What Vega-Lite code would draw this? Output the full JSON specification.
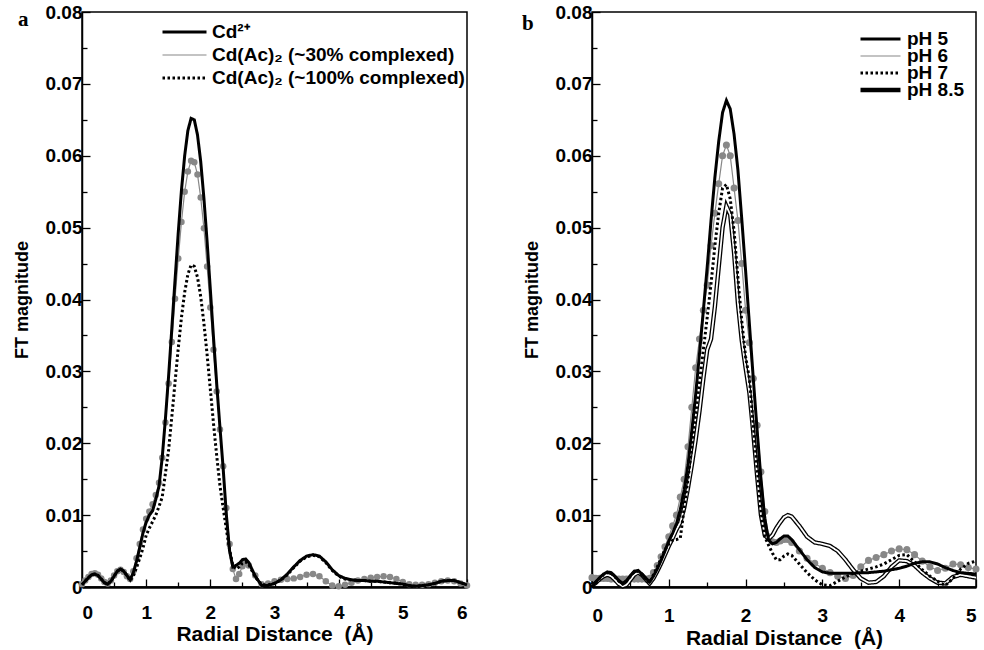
{
  "$schema": "https://vega.github.io/schema/vega-lite/v6.json",
  "padding": {"left": 12, "top": 2, "right": 0, "bottom": 0},
  "background": "white",
  "spacing": 125,
  "bounds": "flush",
  "resolve": {
    "scale": {"color": "independent", "strokeDash": "independent", "strokeWidth": "independent", "x": "independent", "y": "independent"},
    "legend": {"color": "independent", "strokeDash": "independent", "strokeWidth": "independent"}
  },
  "config": {
    "view": {"stroke": "black", "strokeWidth": 1.5},
    "axis": {
      "labelFont": "Liberation Sans", "labelFontWeight": "bold", "labelFontSize": 19, "labelColor": "black",
      "titleFont": "Liberation Sans", "titleFontWeight": "bold", "titleFontSize": 21, "titleColor": "black",
      "domainColor": "black", "tickColor": "black", "tickWidth": 1.3, "grid": false
    },
    "axisX": {"domainWidth": 2.5, "titlePadding": 1, "labelPadding": 24},
    "axisY": {"domainWidth": 1.5, "titlePadding": 14, "labelPadding": 8, "titleFontSize": 18},
    "legend": {
      "labelFont": "Liberation Sans", "labelFontWeight": "bold", "labelFontSize": 19, "labelColor": "black",
      "symbolType": "stroke", "padding": 0, "labelOffset": 4, "labelLimit": 400, "rowPadding": 0
    },
    "title": {"font": "Liberation Serif", "fontWeight": "bold", "fontSize": 21, "color": "black"}
  },
  "hconcat": [
    {
      "width": 385,
      "height": 575,
      "title": {"text": "a", "anchor": "start", "frame": "group", "orient": "top", "offset": -38, "baseline": "middle", "dx": -64},
      "data": {"values": [
        {"x":0.00,"c":0.0003,"g":0.0004,"d":0.0003},
        {"x":0.05,"c":0.0008,"g":0.0009,"d":0.0008},
        {"x":0.10,"c":0.0013,"g":0.0014,"d":0.0013},
        {"x":0.15,"c":0.0017,"g":0.0018,"d":0.0017},
        {"x":0.20,"c":0.0018,"g":0.0019,"d":0.0018},
        {"x":0.25,"c":0.0016,"g":0.0017,"d":0.0016},
        {"x":0.30,"c":0.0011,"g":0.0012,"d":0.0011},
        {"x":0.35,"c":0.0006,"g":0.0007,"d":0.0006},
        {"x":0.40,"c":0.0004,"g":0.0005,"d":0.0004},
        {"x":0.45,"c":0.0008,"g":0.0009,"d":0.0008},
        {"x":0.50,"c":0.0015,"g":0.0016,"d":0.0015},
        {"x":0.55,"c":0.0022,"g":0.0022,"d":0.0022},
        {"x":0.60,"c":0.0025,"g":0.0024,"d":0.0025},
        {"x":0.65,"c":0.0022,"g":0.0021,"d":0.0022},
        {"x":0.70,"c":0.0016,"g":0.0015,"d":0.0016},
        {"x":0.75,"c":0.0010,"g":0.0011,"d":0.0009},
        {"x":0.80,"c":0.0020,"g":0.0022,"d":0.0015},
        {"x":0.85,"c":0.0036,"g":0.0040,"d":0.0027},
        {"x":0.90,"c":0.0055,"g":0.0060,"d":0.0040},
        {"x":0.95,"c":0.0075,"g":0.0080,"d":0.0054},
        {"x":1.00,"c":0.0090,"g":0.0095,"d":0.0072},
        {"x":1.05,"c":0.0100,"g":0.0105,"d":0.0082},
        {"x":1.10,"c":0.0106,"g":0.0115,"d":0.0091},
        {"x":1.15,"c":0.0122,"g":0.0128,"d":0.0100},
        {"x":1.20,"c":0.0140,"g":0.0145,"d":0.0112},
        {"x":1.25,"c":0.0180,"g":0.0180,"d":0.0125},
        {"x":1.30,"c":0.0234,"g":0.0229,"d":0.0158},
        {"x":1.35,"c":0.0294,"g":0.0283,"d":0.0191},
        {"x":1.40,"c":0.0360,"g":0.0341,"d":0.0237},
        {"x":1.45,"c":0.0427,"g":0.0401,"d":0.0285},
        {"x":1.50,"c":0.0493,"g":0.0457,"d":0.0332},
        {"x":1.55,"c":0.0552,"g":0.0508,"d":0.0375},
        {"x":1.60,"c":0.0600,"g":0.0550,"d":0.0410},
        {"x":1.65,"c":0.0635,"g":0.0578,"d":0.0435},
        {"x":1.70,"c":0.0652,"g":0.0593,"d":0.0448},
        {"x":1.75,"c":0.0650,"g":0.0591,"d":0.0446},
        {"x":1.80,"c":0.0629,"g":0.0574,"d":0.0431},
        {"x":1.85,"c":0.0592,"g":0.0542,"d":0.0404},
        {"x":1.90,"c":0.0541,"g":0.0499,"d":0.0367},
        {"x":1.95,"c":0.0480,"g":0.0446,"d":0.0323},
        {"x":2.00,"c":0.0414,"g":0.0389,"d":0.0275},
        {"x":2.05,"c":0.0346,"g":0.0330,"d":0.0227},
        {"x":2.10,"c":0.0282,"g":0.0272,"d":0.0182},
        {"x":2.15,"c":0.0222,"g":0.0219,"d":0.0141},
        {"x":2.20,"c":0.0165,"g":0.0168,"d":0.0110},
        {"x":2.25,"c":0.0100,"g":0.0110,"d":0.0080},
        {"x":2.30,"c":0.0050,"g":0.0060,"d":0.0052},
        {"x":2.35,"c":0.0028,"g":0.0025,"d":0.0030},
        {"x":2.40,"c":0.0030,"g":0.0011,"d":0.0025},
        {"x":2.45,"c":0.0033,"g":0.0018,"d":0.0028},
        {"x":2.50,"c":0.0038,"g":0.0029,"d":0.0033},
        {"x":2.55,"c":0.0039,"g":0.0033,"d":0.0035},
        {"x":2.60,"c":0.0034,"g":0.0030,"d":0.0031},
        {"x":2.70,"c":0.0015,"g":0.0016,"d":0.0014},
        {"x":2.80,"c":0.0002,"g":0.0004,"d":0.0003},
        {"x":2.90,"c":0.0002,"g":0.0005,"d":0.0003},
        {"x":3.00,"c":0.0005,"g":0.0008,"d":0.0005},
        {"x":3.10,"c":0.0010,"g":0.0010,"d":0.0010},
        {"x":3.20,"c":0.0018,"g":0.0011,"d":0.0017},
        {"x":3.30,"c":0.0028,"g":0.0012,"d":0.0027},
        {"x":3.40,"c":0.0037,"g":0.0014,"d":0.0036},
        {"x":3.50,"c":0.0043,"g":0.0017,"d":0.0042},
        {"x":3.60,"c":0.0045,"g":0.0018,"d":0.0044},
        {"x":3.70,"c":0.0043,"g":0.0015,"d":0.0042},
        {"x":3.80,"c":0.0035,"g":0.0008,"d":0.0034},
        {"x":3.90,"c":0.0024,"g":0.0002,"d":0.0023},
        {"x":4.00,"c":0.0016,"g":0.0001,"d":0.0015},
        {"x":4.10,"c":0.0012,"g":0.0003,"d":0.0011},
        {"x":4.20,"c":0.0010,"g":0.0006,"d":0.0010},
        {"x":4.30,"c":0.0009,"g":0.0009,"d":0.0009},
        {"x":4.40,"c":0.0009,"g":0.0011,"d":0.0009},
        {"x":4.50,"c":0.0008,"g":0.0013,"d":0.0008},
        {"x":4.60,"c":0.0008,"g":0.0014,"d":0.0008},
        {"x":4.70,"c":0.0007,"g":0.0015,"d":0.0007},
        {"x":4.80,"c":0.0006,"g":0.0014,"d":0.0006},
        {"x":4.90,"c":0.0005,"g":0.0011,"d":0.0005},
        {"x":5.00,"c":0.0004,"g":0.0007,"d":0.0004},
        {"x":5.10,"c":0.0002,"g":0.0004,"d":0.0002},
        {"x":5.20,"c":0.0001,"g":0.0003,"d":0.0001},
        {"x":5.30,"c":0.0002,"g":0.0003,"d":0.0002},
        {"x":5.40,"c":0.0003,"g":0.0004,"d":0.0003},
        {"x":5.50,"c":0.0005,"g":0.0006,"d":0.0005},
        {"x":5.60,"c":0.0008,"g":0.0008,"d":0.0008},
        {"x":5.70,"c":0.0009,"g":0.0009,"d":0.0009},
        {"x":5.80,"c":0.0009,"g":0.0008,"d":0.0009},
        {"x":5.90,"c":0.0006,"g":0.0005,"d":0.0006},
        {"x":6.00,"c":0.0003,"g":0.0002,"d":0.0003}
      ]},
      "transform": [{"fold": ["c", "g", "d"], "as": ["series", "v"]}],
      "encoding": {
        "x": {"field": "x", "type": "quantitative", "scale": {"domain": [0, 6], "nice": false},
          "axis": {"title": "Radial Distance\u00a0 (Å)",
            "values": [0,0.5,1,1.5,2,2.5,3,3.5,4,4.5,5,5.5,6],
            "labelExpr": "datum.value % 1 === 0 ? format(datum.value, 'd') : ''",
            "tickSize": {"condition": {"test": "datum.value % 1 === 0", "value": -8}, "value": -5}}},
        "y": {"field": "v", "type": "quantitative", "scale": {"domain": [0, 0.08], "nice": false},
          "axis": {"title": "FT magnitude",
            "values": [0,0.005,0.01,0.015,0.02,0.025,0.03,0.035,0.04,0.045,0.05,0.055,0.06,0.065,0.07,0.075,0.08],
            "labelExpr": "round(datum.value*1000) % 10 === 0 ? format(datum.value, '.2~f') : ''",
            "tickSize": {"condition": {"test": "round(datum.value*1000) % 10 === 0", "value": -8}, "value": -5}}},
        "color": {"field": "series", "type": "nominal",
          "scale": {"domain": ["c", "g", "d"], "range": ["#000000", "#888888", "#000000"]},
          "legend": {"title": null, "orient": "none", "legendX": 79, "legendY": 9, "symbolSize": 1936, "clipHeight": 22, "rowPadding": 1,
            "labelExpr": "{'c': 'Cd²⁺', 'g': 'Cd(Ac)₂ (~30% complexed)', 'd': 'Cd(Ac)₂ (~100% complexed)'}[datum.label]"}},
        "strokeDash": {"field": "series", "type": "nominal",
          "scale": {"domain": ["c", "g", "d"], "range": [[1, 0], [1, 0], [2.5, 2.5]]},
          "legend": {"title": null, "orient": "none", "legendX": 79, "legendY": 9, "symbolSize": 1936, "clipHeight": 22, "rowPadding": 1,
            "labelExpr": "{'c': 'Cd²⁺', 'g': 'Cd(Ac)₂ (~30% complexed)', 'd': 'Cd(Ac)₂ (~100% complexed)'}[datum.label]"}},
        "strokeWidth": {"field": "series", "type": "nominal",
          "scale": {"type": "ordinal", "domain": ["c", "g", "d"], "range": [3, 1.2, 3]},
          "legend": {"title": null, "orient": "none", "legendX": 79, "legendY": 9, "symbolSize": 1936, "clipHeight": 22, "rowPadding": 1,
            "labelExpr": "{'c': 'Cd²⁺', 'g': 'Cd(Ac)₂ (~30% complexed)', 'd': 'Cd(Ac)₂ (~100% complexed)'}[datum.label]"}}
      },
      "layer": [
        {"transform": [{"filter": "datum.series === 'g'"}], "mark": {"type": "line"}},
        {"transform": [{"filter": "datum.series === 'g'"}],
          "mark": {"type": "point", "filled": true, "size": 42, "opacity": 1},
          "encoding": {"color": {"value": "#888888"}, "strokeDash": {"value": [1, 0]}, "strokeWidth": {"value": 0}}},
        {"transform": [{"filter": "datum.series === 'c'"}], "mark": {"type": "line"}},
        {"transform": [{"filter": "datum.series === 'd'"}], "mark": {"type": "line"}}
      ]
    },
    {
      "width": 384,
      "height": 575,
      "title": {"text": "b", "anchor": "start", "frame": "group", "orient": "top", "offset": -42, "baseline": "middle", "dx": -70},
      "data": {"values": [
        {"x":0.00,"p5":0.0000,"p6":0.0013,"p7":0.0000,"p85":0.0002},
        {"x":0.05,"p5":0.0007,"p6":0.0012,"p7":0.0006,"p85":0.0006},
        {"x":0.10,"p5":0.0013,"p6":0.0012,"p7":0.0012,"p85":0.0011},
        {"x":0.15,"p5":0.0018,"p6":0.0012,"p7":0.0017,"p85":0.0015},
        {"x":0.20,"p5":0.0021,"p6":0.0012,"p7":0.0020,"p85":0.0017},
        {"x":0.25,"p5":0.0020,"p6":0.0011,"p7":0.0019,"p85":0.0015},
        {"x":0.30,"p5":0.0015,"p6":0.0011,"p7":0.0014,"p85":0.0010},
        {"x":0.35,"p5":0.0009,"p6":0.0011,"p7":0.0008,"p85":0.0004},
        {"x":0.40,"p5":0.0005,"p6":0.0011,"p7":0.0004,"p85":0.0001},
        {"x":0.45,"p5":0.0009,"p6":0.0011,"p7":0.0008,"p85":0.0003},
        {"x":0.50,"p5":0.0016,"p6":0.0011,"p7":0.0015,"p85":0.0010},
        {"x":0.55,"p5":0.0022,"p6":0.0011,"p7":0.0021,"p85":0.0017},
        {"x":0.60,"p5":0.0023,"p6":0.0011,"p7":0.0022,"p85":0.0020},
        {"x":0.65,"p5":0.0018,"p6":0.0011,"p7":0.0017,"p85":0.0017},
        {"x":0.70,"p5":0.0012,"p6":0.0011,"p7":0.0011,"p85":0.0011},
        {"x":0.75,"p5":0.0007,"p6":0.0012,"p7":0.0006,"p85":0.0005},
        {"x":0.80,"p5":0.0015,"p6":0.0020,"p7":0.0017,"p85":0.0012},
        {"x":0.85,"p5":0.0025,"p6":0.0030,"p7":0.0028,"p85":0.0022},
        {"x":0.90,"p5":0.0037,"p6":0.0042,"p7":0.0040,"p85":0.0033},
        {"x":0.95,"p5":0.0050,"p6":0.0056,"p7":0.0052,"p85":0.0045},
        {"x":1.00,"p5":0.0064,"p6":0.0070,"p7":0.0060,"p85":0.0057},
        {"x":1.05,"p5":0.0075,"p6":0.0085,"p7":0.0065,"p85":0.0068},
        {"x":1.10,"p5":0.0088,"p6":0.0100,"p7":0.0066,"p85":0.0080},
        {"x":1.15,"p5":0.0108,"p6":0.0125,"p7":0.0068,"p85":0.0090},
        {"x":1.20,"p5":0.0135,"p6":0.0150,"p7":0.0110,"p85":0.0110},
        {"x":1.25,"p5":0.0170,"p6":0.0195,"p7":0.0150,"p85":0.0138},
        {"x":1.30,"p5":0.0218,"p6":0.0250,"p7":0.0195,"p85":0.0170},
        {"x":1.35,"p5":0.0268,"p6":0.0305,"p7":0.0240,"p85":0.0205},
        {"x":1.40,"p5":0.0325,"p6":0.0345,"p7":0.0285,"p85":0.0245},
        {"x":1.45,"p5":0.0385,"p6":0.0385,"p7":0.0330,"p85":0.0290},
        {"x":1.50,"p5":0.0445,"p6":0.0420,"p7":0.0375,"p85":0.0330},
        {"x":1.55,"p5":0.0510,"p6":0.0475,"p7":0.0422,"p85":0.0345},
        {"x":1.60,"p5":0.0570,"p6":0.0520,"p7":0.0475,"p85":0.0390},
        {"x":1.65,"p5":0.0620,"p6":0.0561,"p7":0.0520,"p85":0.0445},
        {"x":1.70,"p5":0.0660,"p6":0.0600,"p7":0.0555,"p85":0.0500},
        {"x":1.75,"p5":0.0677,"p6":0.0615,"p7":0.0560,"p85":0.0530},
        {"x":1.80,"p5":0.0665,"p6":0.0600,"p7":0.0540,"p85":0.0518},
        {"x":1.85,"p5":0.0630,"p6":0.0555,"p7":0.0495,"p85":0.0465},
        {"x":1.90,"p5":0.0580,"p6":0.0510,"p7":0.0430,"p85":0.0395},
        {"x":1.95,"p5":0.0512,"p6":0.0450,"p7":0.0370,"p85":0.0343},
        {"x":2.00,"p5":0.0440,"p6":0.0385,"p7":0.0320,"p85":0.0305},
        {"x":2.05,"p5":0.0365,"p6":0.0340,"p7":0.0290,"p85":0.0270},
        {"x":2.10,"p5":0.0290,"p6":0.0290,"p7":0.0225,"p85":0.0215},
        {"x":2.15,"p5":0.0218,"p6":0.0225,"p7":0.0165,"p85":0.0155},
        {"x":2.20,"p5":0.0150,"p6":0.0160,"p7":0.0105,"p85":0.0100},
        {"x":2.25,"p5":0.0095,"p6":0.0105,"p7":0.0070,"p85":0.0072},
        {"x":2.30,"p5":0.0065,"p6":0.0070,"p7":0.0058,"p85":0.0067},
        {"x":2.35,"p5":0.0060,"p6":0.0063,"p7":0.0047,"p85":0.0072},
        {"x":2.40,"p5":0.0062,"p6":0.0062,"p7":0.0038,"p85":0.0082},
        {"x":2.45,"p5":0.0067,"p6":0.0064,"p7":0.0038,"p85":0.0090},
        {"x":2.50,"p5":0.0071,"p6":0.0066,"p7":0.0043,"p85":0.0097},
        {"x":2.55,"p5":0.0071,"p6":0.0066,"p7":0.0046,"p85":0.0100},
        {"x":2.60,"p5":0.0066,"p6":0.0062,"p7":0.0044,"p85":0.0098},
        {"x":2.70,"p5":0.0052,"p6":0.0050,"p7":0.0032,"p85":0.0085},
        {"x":2.80,"p5":0.0038,"p6":0.0040,"p7":0.0020,"p85":0.0070},
        {"x":2.90,"p5":0.0027,"p6":0.0033,"p7":0.0010,"p85":0.0062},
        {"x":3.00,"p5":0.0021,"p6":0.0026,"p7":0.0003,"p85":0.0060},
        {"x":3.10,"p5":0.0019,"p6":0.0020,"p7":0.0002,"p85":0.0057},
        {"x":3.20,"p5":0.0019,"p6":0.0015,"p7":0.0008,"p85":0.0050},
        {"x":3.30,"p5":0.0019,"p6":0.0012,"p7":0.0014,"p85":0.0038},
        {"x":3.40,"p5":0.0019,"p6":0.0016,"p7":0.0019,"p85":0.0024},
        {"x":3.50,"p5":0.0020,"p6":0.0028,"p7":0.0022,"p85":0.0012},
        {"x":3.60,"p5":0.0020,"p6":0.0037,"p7":0.0025,"p85":0.0006},
        {"x":3.70,"p5":0.0021,"p6":0.0041,"p7":0.0028,"p85":0.0007},
        {"x":3.80,"p5":0.0022,"p6":0.0045,"p7":0.0032,"p85":0.0015},
        {"x":3.90,"p5":0.0024,"p6":0.0050,"p7":0.0038,"p85":0.0028},
        {"x":4.00,"p5":0.0026,"p6":0.0053,"p7":0.0044,"p85":0.0037},
        {"x":4.10,"p5":0.0029,"p6":0.0052,"p7":0.0045,"p85":0.0036},
        {"x":4.20,"p5":0.0033,"p6":0.0045,"p7":0.0035,"p85":0.0030},
        {"x":4.30,"p5":0.0035,"p6":0.0036,"p7":0.0024,"p85":0.0020},
        {"x":4.40,"p5":0.0035,"p6":0.0028,"p7":0.0015,"p85":0.0012},
        {"x":4.50,"p5":0.0032,"p6":0.0023,"p7":0.0008,"p85":0.0006},
        {"x":4.60,"p5":0.0027,"p6":0.0026,"p7":0.0002,"p85":0.0005},
        {"x":4.70,"p5":0.0023,"p6":0.0032,"p7":0.0012,"p85":0.0014},
        {"x":4.80,"p5":0.0020,"p6":0.0031,"p7":0.0025,"p85":0.0017},
        {"x":4.90,"p5":0.0019,"p6":0.0027,"p7":0.0033,"p85":0.0015},
        {"x":5.00,"p5":0.0018,"p6":0.0025,"p7":0.0036,"p85":0.0013}
      ]},
      "transform": [{"fold": ["p5", "p6", "p7", "p85"], "as": ["series", "v"]}],
      "encoding": {
        "x": {"field": "x", "type": "quantitative", "scale": {"domain": [0, 5], "nice": false},
          "axis": {"title": "Radial Distance\u00a0 (Å)", "labelPadding": 27, "titlePadding": 2,
            "values": [0,0.5,1,1.5,2,2.5,3,3.5,4,4.5,5],
            "labelExpr": "datum.value % 1 === 0 ? format(datum.value, 'd') : ''",
            "tickSize": {"condition": {"test": "datum.value % 1 === 0", "value": -8}, "value": -5}}},
        "y": {"field": "v", "type": "quantitative", "scale": {"domain": [0, 0.08], "nice": false},
          "axis": {"title": "FT magnitude",
            "values": [0,0.005,0.01,0.015,0.02,0.025,0.03,0.035,0.04,0.045,0.05,0.055,0.06,0.065,0.07,0.075,0.08],
            "labelExpr": "round(datum.value*1000) % 10 === 0 ? format(datum.value, '.2~f') : ''",
            "tickSize": {"condition": {"test": "round(datum.value*1000) % 10 === 0", "value": -8}, "value": -5}}},
        "color": {"field": "series", "type": "nominal",
          "scale": {"domain": ["p5", "p6", "p7", "p85"], "range": ["#000000", "#888888", "#000000", "#000000"]},
          "legend": {"title": null, "orient": "none", "legendX": 266, "legendY": 20, "symbolSize": 1600, "clipHeight": 14, "rowPadding": -4, "labelFontSize": 19,
            "labelExpr": "{'p5': 'pH 5', 'p6': 'pH 6', 'p7': 'pH 7', 'p85': 'pH 8.5'}[datum.label]"}},
        "strokeDash": {"field": "series", "type": "nominal",
          "scale": {"domain": ["p5", "p6", "p7", "p85"], "range": [[1, 0], [1, 0], [2.5, 2.5], [1, 0]]},
          "legend": {"title": null, "orient": "none", "legendX": 266, "legendY": 20, "symbolSize": 1600, "clipHeight": 14, "rowPadding": -4, "labelFontSize": 19,
            "labelExpr": "{'p5': 'pH 5', 'p6': 'pH 6', 'p7': 'pH 7', 'p85': 'pH 8.5'}[datum.label]"}},
        "strokeWidth": {"field": "series", "type": "nominal",
          "scale": {"type": "ordinal", "domain": ["p5", "p6", "p7", "p85"], "range": [3, 1.2, 3, 4.4]},
          "legend": {"title": null, "orient": "none", "legendX": 266, "legendY": 20, "symbolSize": 1600, "clipHeight": 14, "rowPadding": -4, "labelFontSize": 19,
            "labelExpr": "{'p5': 'pH 5', 'p6': 'pH 6', 'p7': 'pH 7', 'p85': 'pH 8.5'}[datum.label]"}}
      },
      "layer": [
        {"transform": [{"filter": "datum.series === 'p6'"}], "mark": {"type": "line"}},
        {"transform": [{"filter": "datum.series === 'p6'"}],
          "mark": {"type": "point", "filled": true, "size": 50, "opacity": 1},
          "encoding": {"color": {"value": "#888888"}, "strokeDash": {"value": [1, 0]}, "strokeWidth": {"value": 0}}},
        {"transform": [{"filter": "datum.series === 'p85'"}], "mark": {"type": "line"}},
        {"transform": [{"filter": "datum.series === 'p85'"}], "mark": {"type": "line"},
          "encoding": {"color": {"value": "white"}, "strokeDash": {"value": [1, 0]}, "strokeWidth": {"value": 1.8}}},
        {"transform": [{"filter": "datum.series === 'p7'"}], "mark": {"type": "line"}},
        {"transform": [{"filter": "datum.series === 'p5'"}], "mark": {"type": "line"}}
      ]
    }
  ]
}
